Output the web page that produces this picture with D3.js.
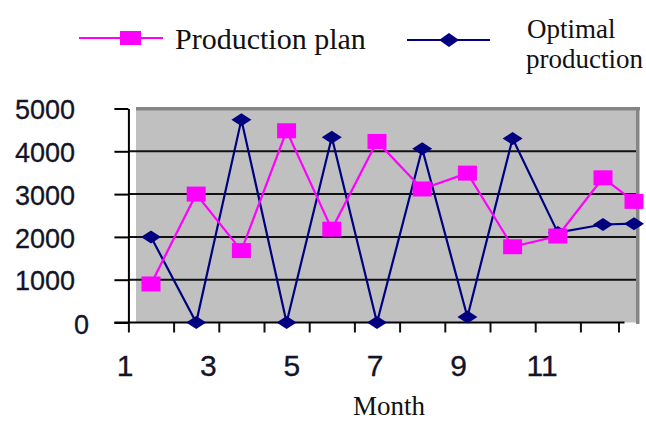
<!DOCTYPE html>
<html>
<head>
<meta charset="utf-8">
<script src="https://cdn.jsdelivr.net/npm/d3@7"></script>
<style>
  html, body { margin: 0; padding: 0; background: #fff; }
  svg { display: block; }
</style>
</head>
<body>
<svg id="chart" width="646" height="423"></svg>
<script>
// ---- data ----
const months = [1, 2, 3, 4, 5, 6, 7, 8, 9, 10, 11, 12];
const productionPlan = [900, 3000, 1680, 4480, 2180, 4230, 3120, 3490, 1770, 2020, 3380, 2830];
const optimalProduction = [2000, 0, 4740, 0, 4330, 0, 4060, 130, 4300, 2100, 2290, 2310];
const yTicks = [0, 1000, 2000, 3000, 4000, 5000];
const xTickLabels = [1, 3, 5, 7, 9, 11];
const seriesNames = ["Production plan", "Optimal production"];

const svg = d3.select("#chart");

// ---- scales ----
const x = d3.scaleLinear().domain([1, 11, 12]).range([151, 603, 634]);
const y = d3.scaleLinear().domain([0, 5000]).range([322.5, 108.5]);
const xLabel = d3.scaleLinear().domain([1, 11]).range([125, 542]);

const axisX = x(0.5);           // y-axis position
const plotRight = 637;

// ---- plot area ----
svg.append("rect")
  .attr("x", 136).attr("y", y(5000))
  .attr("width", plotRight - 136).attr("height", y(0) - y(5000))
  .attr("fill", "#c0c0c0");
// darker top and right border
svg.append("rect").attr("x", 136).attr("y", y(5000) - 1.5)
  .attr("width", plotRight + 3 - 136).attr("height", 3.5).attr("fill", "#858585");
svg.append("rect").attr("x", plotRight - 1).attr("y", y(5000) - 1.5)
  .attr("width", 3.5).attr("height", y(0) - y(5000) + 3).attr("fill", "#858585");

// gridlines
svg.append("g").selectAll("line")
  .data(yTicks.filter(d => d > 0 && d < 5000))
  .join("line")
  .attr("x1", axisX).attr("x2", plotRight - 1)
  .attr("y1", d => y(d)).attr("y2", d => y(d))
  .attr("stroke", "#111").attr("stroke-width", 2);

// y axis
const yAxis = d3.axisLeft(y).tickValues(yTicks).tickSize(14).tickSizeOuter(0).tickFormat("");
const gy = svg.append("g").attr("transform", `translate(${axisX},0)`).call(yAxis);
gy.select(".domain").attr("stroke", "#000").attr("stroke-width", 2);
gy.selectAll(".tick line").attr("stroke", "#000").attr("stroke-width", 2);

svg.append("g").selectAll("text")
  .data(yTicks)
  .join("text")
  .attr("x", d => d === 0 ? 89 : 75)
  .attr("y", d => y(d) + (d === 0 ? 2 : 1))
  .attr("dy", "0.36em")
  .attr("text-anchor", "end")
  .attr("font-family", "Liberation Sans, Arial, sans-serif")
  .attr("font-size", 27)
  .attr("fill", "#141428")
  .attr("stroke", "#141428").attr("stroke-width", 0.3)
  .text(d => d);

// x axis
const xTickVals = months.map(m => m - 0.5);
const xAxis = d3.axisBottom(x).tickValues(xTickVals).tickSize(10).tickSizeOuter(0).tickFormat("");
const gx = svg.append("g").attr("transform", `translate(0,${y(0)})`).call(xAxis);
gx.select(".domain").remove();
gx.selectAll(".tick line").attr("stroke", "#111").attr("stroke-width", 2);
svg.append("line")
  .attr("x1", axisX - 14).attr("x2", x(11.5) + 6)
  .attr("y1", y(0)).attr("y2", y(0))
  .attr("stroke", "#000").attr("stroke-width", 2);

svg.append("g").selectAll("text")
  .data(xTickLabels)
  .join("text")
  .attr("x", d => xLabel(d))
  .attr("y", 376)
  .attr("text-anchor", "middle")
  .attr("font-family", "Liberation Sans, Arial, sans-serif")
  .attr("font-size", 30)
  .attr("fill", "#141428")
  .attr("stroke", "#141428").attr("stroke-width", 0.3)
  .text(d => d);

svg.append("text")
  .attr("x", (x(0.5) + x(12.5)) / 2)
  .attr("y", 415)
  .attr("text-anchor", "middle")
  .attr("font-family", "Liberation Serif, Times New Roman, serif")
  .attr("font-size", 27)
  .attr("fill", "#111")
  .text("Month");

// ---- series ----
const line = d3.line().x((d, i) => x(months[i])).y(d => y(d));
const diamond = (cx, cy, hw, hh) => `M${cx - hw},${cy}L${cx},${cy - hh}L${cx + hw},${cy}L${cx},${cy + hh}Z`;

// optimal production (navy, diamonds)
svg.append("path").datum(optimalProduction)
  .attr("d", line).attr("fill", "none")
  .attr("stroke", "#000080").attr("stroke-width", 2.2);
svg.append("g").selectAll("path")
  .data(optimalProduction)
  .join("path")
  .attr("d", (d, i) => diamond(x(months[i]), y(d), 10, 6.5))
  .attr("fill", "#000080");

// production plan (magenta, squares)
svg.append("path").datum(productionPlan)
  .attr("d", line).attr("fill", "none")
  .attr("stroke", "#ff00ff").attr("stroke-width", 2.2);
svg.append("g").selectAll("rect")
  .data(productionPlan)
  .join("rect")
  .attr("x", (d, i) => x(months[i]) - 9.5)
  .attr("y", d => y(d) - 7.5)
  .attr("width", 19).attr("height", 15)
  .attr("fill", "#ff00ff");

// ---- legend ----
const lg = svg.append("g");
lg.append("line").attr("x1", 79).attr("x2", 163).attr("y1", 38).attr("y2", 38)
  .attr("stroke", "#ff00ff").attr("stroke-width", 2.2);
lg.append("rect").attr("x", 120).attr("y", 31).attr("width", 21).attr("height", 14)
  .attr("fill", "#ff00ff");
lg.append("text").attr("x", 175).attr("y", 49)
  .attr("font-family", "Liberation Serif, Times New Roman, serif")
  .attr("font-size", 30).attr("fill", "#111")
  .text(seriesNames[0]);

lg.append("line").attr("x1", 407).attr("x2", 490).attr("y1", 40).attr("y2", 40)
  .attr("stroke", "#000080").attr("stroke-width", 2.2);
lg.append("path").attr("d", diamond(449, 40, 10, 7)).attr("fill", "#000080");
const [w1, w2] = seriesNames[1].split(" ");
lg.append("text").attr("x", 527).attr("y", 38)
  .attr("font-family", "Liberation Serif, Times New Roman, serif")
  .attr("font-size", 27).attr("fill", "#111")
  .text(w1);
lg.append("text").attr("x", 526).attr("y", 68)
  .attr("font-family", "Liberation Serif, Times New Roman, serif")
  .attr("font-size", 27).attr("fill", "#111")
  .text(w2);
</script>
</body>
</html>
